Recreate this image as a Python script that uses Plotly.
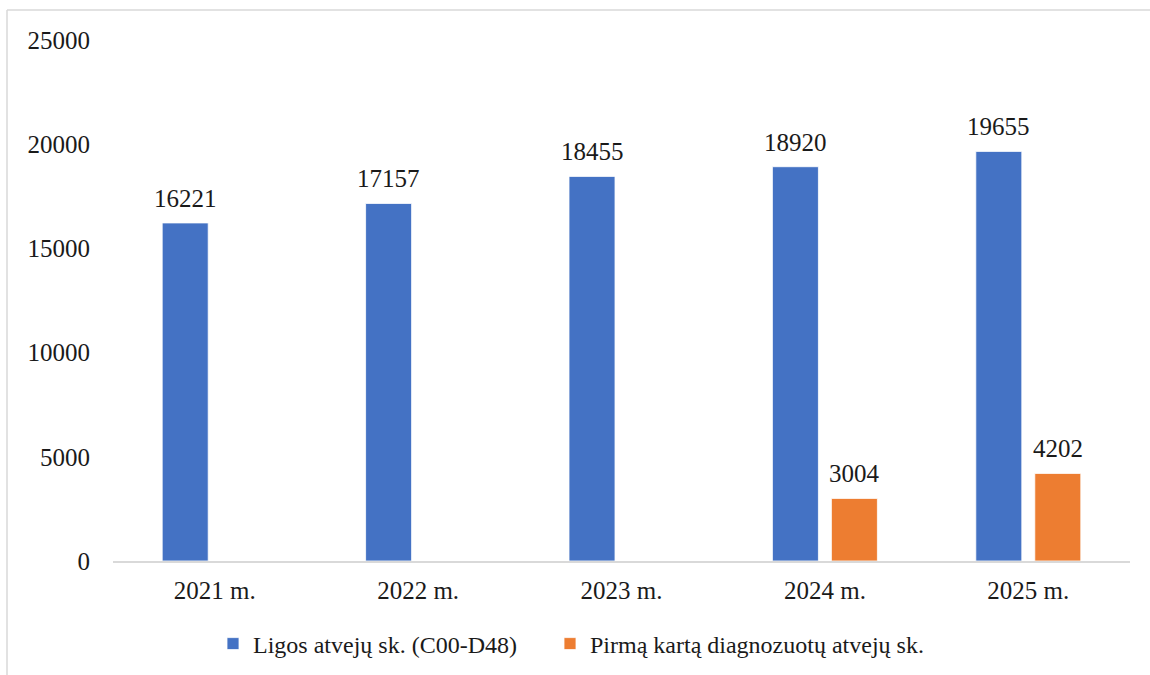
import plotly.graph_objects as go

# Chart data
years = ["2021 m.", "2022 m.", "2023 m.", "2024 m.", "2025 m."]
cases_total = [16221, 17157, 18455, 18920, 19655]
cases_first = [None, None, None, 3004, 4202]
series_names = ["Ligos atvejų sk. (C00-D48)", "Pirmą kartą diagnozuotų atvejų sk."]
y_ticks = [0, 5000, 10000, 15000, 20000, 25000]

FONT = "Liberation Serif"
TXT = "#1a1a1a"
BLUE = "#4472C4"
ORANGE = "#ED7D31"
FS = 25

# Plot area in pixels
W, H = 1150, 675
L, R, T, B = 113, 20, 40, 114
pw, ph = W - L - R, H - T - B
BARGAP, GROUPGAP = 0.42, 0.22

def px_x(p):
    return (p - L) / pw

def px_y(p):
    return (H - B - p) / ph

fig = go.Figure()
fig.add_trace(go.Bar(
    x=years, y=cases_total, name=series_names[0], legend="legend",
    marker=dict(color=BLUE, line=dict(color="white", width=0.8)),
))
fig.add_trace(go.Bar(
    x=years, y=cases_first, name=series_names[1], legend="legend2",
    marker=dict(color=ORANGE, line=dict(color="white", width=0.8)),
))

# Value labels above each bar, shifted to the bar's slot inside its group
slot_px = pw / len(years) * (1 - BARGAP) / 2
annotations = []
for series, shift in ((cases_total, -slot_px / 2), (cases_first, slot_px / 2)):
    for cat, val in zip(years, series):
        if val is None:
            continue
        annotations.append(dict(
            x=cat, y=val, xref="x", yref="y", text=str(val), showarrow=False,
            xanchor="center", yanchor="bottom", xshift=shift, yshift=9,
            font=dict(family=FONT, size=FS, color=TXT),
        ))

legend_style = dict(
    orientation="h", xanchor="left", y=px_y(644), yanchor="middle",
    font=dict(family=FONT, size=24, color=TXT),
    itemwidth=30, bgcolor="rgba(0,0,0,0)",
)

fig.update_layout(
    width=W, height=H,
    margin=dict(l=L, r=R, t=T, b=B, autoexpand=False),
    paper_bgcolor="white", plot_bgcolor="white",
    font=dict(family=FONT, size=FS, color=TXT),
    barmode="group", bargap=BARGAP, bargroupgap=GROUPGAP,
    showlegend=True,
    legend=dict(x=px_x(213), **legend_style),
    legend2=dict(x=px_x(550), **legend_style),
    xaxis=dict(
        showgrid=False, showline=True, linecolor="#d9d9d9", linewidth=1.5,
        ticks="", ticklabelstandoff=6,
        tickfont=dict(family=FONT, size=FS, color=TXT),
    ),
    yaxis=dict(
        range=[0, 25000], tickvals=y_ticks, ticktext=[str(v) for v in y_ticks],
        showgrid=False, showline=False, zeroline=False, ticks="",
        ticklabelstandoff=22,
        tickfont=dict(family=FONT, size=FS, color=TXT),
    ),
    annotations=annotations,
    shapes=[
        dict(type="line", xref="paper", yref="paper",
             x0=px_x(7), x1=px_x(1150), y0=px_y(10), y1=px_y(10),
             line=dict(color="#d9d9d9", width=1.5)),
        dict(type="line", xref="paper", yref="paper",
             x0=px_x(7), x1=px_x(7), y0=px_y(10), y1=px_y(675),
             line=dict(color="#d9d9d9", width=1.5)),
    ],
)

fig.write_html("out.html")
